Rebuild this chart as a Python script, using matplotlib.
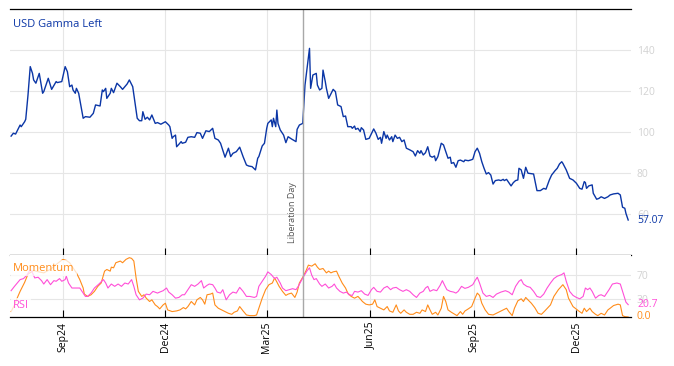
import matplotlib.dates as mdates
import matplotlib.pyplot as plt
import pandas as pd

plt.rcParams["font.family"] = ["Open Sans", "DejaVu Sans"]

# ---------------------------------------------------------------- data
gamma_dates = [
    "2024-07-17", "2024-07-19", "2024-07-21", "2024-07-25", "2024-07-26", "2024-07-29", "2024-07-30",
    "2024-08-01", "2024-08-03", "2024-08-05", "2024-08-06", "2024-08-08", "2024-08-11", "2024-08-14",
    "2024-08-15", "2024-08-19", "2024-08-22", "2024-08-26", "2024-08-27", "2024-08-31",
    "2024-09-03", "2024-09-05", "2024-09-07", "2024-09-09", "2024-09-10", "2024-09-12", "2024-09-13",
    "2024-09-15", "2024-09-19", "2024-09-21", "2024-09-25", "2024-09-28", "2024-09-30",
    "2024-10-04", "2024-10-06", "2024-10-07", "2024-10-09", "2024-10-10", "2024-10-13", "2024-10-14",
    "2024-10-16", "2024-10-19", "2024-10-22", "2024-10-24", "2024-10-28", "2024-10-30",
    "2024-11-02", "2024-11-06", "2024-11-08", "2024-11-10", "2024-11-11", "2024-11-13", "2024-11-15",
    "2024-11-17", "2024-11-19", "2024-11-22", "2024-11-24", "2024-11-27",
    "2024-12-01", "2024-12-04", "2024-12-05", "2024-12-07", "2024-12-08", "2024-12-10", "2024-12-11",
    "2024-12-13", "2024-12-15", "2024-12-16", "2024-12-19", "2024-12-21", "2024-12-24", "2024-12-27",
    "2024-12-29",
    "2025-01-01", "2025-01-03", "2025-01-06", "2025-01-09", "2025-01-12", "2025-01-14", "2025-01-17",
    "2025-01-19", "2025-01-23", "2025-01-26", "2025-01-28", "2025-01-30",
    "2025-02-02", "2025-02-05", "2025-02-08", "2025-02-11", "2025-02-13", "2025-02-16", "2025-02-19",
    "2025-02-21", "2025-02-22", "2025-02-25", "2025-02-27",
    "2025-03-01", "2025-03-02", "2025-03-05", "2025-03-06", "2025-03-07", "2025-03-09", "2025-03-10",
    "2025-03-11", "2025-03-13", "2025-03-16", "2025-03-18", "2025-03-20", "2025-03-23", "2025-03-27",
    "2025-03-28", "2025-03-30",
    "2025-04-02", "2025-04-04", "2025-04-08", "2025-04-09", "2025-04-11", "2025-04-14", "2025-04-15",
    "2025-04-17", "2025-04-19", "2025-04-20", "2025-04-22", "2025-04-23", "2025-04-25", "2025-04-28",
    "2025-04-29",
    "2025-05-01", "2025-05-03", "2025-05-06", "2025-05-08", "2025-05-10", "2025-05-12", "2025-05-15",
    "2025-05-16", "2025-05-18", "2025-05-19", "2025-05-21", "2025-05-23", "2025-05-24", "2025-05-26",
    "2025-05-28", "2025-05-31",
    "2025-06-04", "2025-06-06", "2025-06-08", "2025-06-10", "2025-06-11", "2025-06-13", "2025-06-15",
    "2025-06-16", "2025-06-18", "2025-06-20", "2025-06-21", "2025-06-23", "2025-06-25", "2025-06-27",
    "2025-06-29",
    "2025-07-01", "2025-07-03", "2025-07-06", "2025-07-09", "2025-07-11", "2025-07-13", "2025-07-15",
    "2025-07-16", "2025-07-18", "2025-07-20", "2025-07-22", "2025-07-24", "2025-07-26", "2025-07-28",
    "2025-07-29", "2025-07-31",
    "2025-08-03", "2025-08-05", "2025-08-07", "2025-08-09", "2025-08-11", "2025-08-12", "2025-08-14",
    "2025-08-16", "2025-08-18", "2025-08-20", "2025-08-23", "2025-08-24", "2025-08-27", "2025-08-29",
    "2025-08-31",
    "2025-09-02", "2025-09-04", "2025-09-06", "2025-09-08", "2025-09-10", "2025-09-12", "2025-09-14",
    "2025-09-16", "2025-09-18", "2025-09-20", "2025-09-23", "2025-09-25", "2025-09-27", "2025-09-28",
    "2025-09-30",
    "2025-10-02", "2025-10-04", "2025-10-06", "2025-10-08", "2025-10-10", "2025-10-11", "2025-10-13",
    "2025-10-15", "2025-10-17", "2025-10-19", "2025-10-24", "2025-10-27", "2025-10-30",
    "2025-11-02", "2025-11-04", "2025-11-07", "2025-11-09", "2025-11-12", "2025-11-14", "2025-11-16",
    "2025-11-18", "2025-11-19", "2025-11-22", "2025-11-25", "2025-11-28",
    "2025-12-01", "2025-12-04", "2025-12-06", "2025-12-08", "2025-12-09", "2025-12-10", "2025-12-12",
    "2025-12-15", "2025-12-16", "2025-12-19", "2025-12-21", "2025-12-23", "2025-12-26", "2025-12-29",
    "2025-12-31",
    "2026-01-03", "2026-01-07", "2026-01-09", "2026-01-11", "2026-01-13", "2026-01-14", "2026-01-16",
]
gamma_values = [
    98.0, 99.4, 99.0, 103.4, 102.6, 105.0, 106.2,
    118.0, 131.9, 128.6, 125.4, 123.8, 128.6, 118.9, 119.7, 126.2, 120.8, 124.6, 124.1, 124.6,
    131.9, 129.4, 122.1, 122.9, 120.5, 118.9, 121.3, 118.9, 106.7, 107.5, 107.2, 109.1, 113.2,
    112.7, 120.5, 119.7, 121.3, 116.4, 118.9, 121.3, 119.2, 123.8, 122.1, 120.8, 123.4, 125.4,
    122.1, 106.7, 105.5, 105.5, 109.9, 106.2, 107.2, 105.9, 108.3, 104.2, 104.6, 103.8,
    105.0, 103.4, 102.6, 96.9, 97.7, 98.5, 92.8, 94.0, 95.3, 94.5, 95.0, 97.4, 97.7, 97.4, 99.7,
    99.4, 96.9, 100.6, 100.2, 101.8, 96.9, 96.1, 94.5, 87.7, 92.1, 88.0, 89.6,
    90.4, 92.6, 88.0, 83.9, 83.4, 83.1, 81.5, 87.2, 88.0, 93.2, 94.5,
    101.8, 104.2, 105.9, 102.6, 106.7, 102.6, 110.7, 104.2, 101.0, 98.5, 94.8, 97.7, 96.6, 95.3,
    101.3, 103.4,
    104.2, 122.9, 140.8, 121.3, 127.8, 128.6, 122.9, 120.5, 121.3, 130.2, 124.6, 121.3, 116.4,
    119.7, 120.8,
    119.7, 113.2, 112.4, 107.5, 107.8, 102.6, 102.6, 101.8, 102.9, 101.3, 101.8, 100.2, 102.1,
    101.0, 96.4, 96.9,
    101.5, 99.4, 96.4, 97.4, 94.5, 100.2, 96.9, 98.5, 96.1, 97.7, 95.3, 98.5, 96.9, 97.4, 95.3,
    96.1, 92.1, 91.3, 90.4, 88.3, 90.9, 89.6, 90.9, 88.8, 89.9, 92.8, 88.3, 87.7, 88.3, 86.0, 88.0,
    94.5, 93.7, 90.4, 87.2, 87.7, 84.7, 85.1, 82.8, 86.0, 86.3, 85.5, 86.3, 86.0, 86.3, 86.7,
    90.4, 92.1, 89.6, 85.5, 82.3, 79.5, 80.2, 79.0, 74.6, 76.3, 76.6, 76.3, 76.9, 76.3, 76.9,
    75.3, 73.7, 75.3, 76.3, 76.6, 82.3, 81.5, 77.4, 82.8, 79.9, 79.5, 71.4, 71.4,
    72.5, 72.1, 76.6, 79.0, 81.1, 82.3, 84.4, 85.5, 84.7, 81.5, 77.4, 76.6,
    75.0, 72.5, 72.1, 75.8, 75.3, 72.5, 73.7, 74.2, 70.1, 67.2, 67.6, 68.4, 67.6, 68.4, 69.3,
    69.8, 70.1, 69.3, 63.3, 62.8, 60.3, 57.07,
]

rsi_dates = [
    "2024-07-17", "2024-07-20", "2024-07-25", "2024-07-28", "2024-07-31",
    "2024-08-03", "2024-08-05", "2024-08-07", "2024-08-10", "2024-08-13", "2024-08-15", "2024-08-18",
    "2024-08-21", "2024-08-24", "2024-08-26", "2024-08-29", "2024-08-31",
    "2024-09-03", "2024-09-04", "2024-09-06", "2024-09-09", "2024-09-13", "2024-09-16", "2024-09-19",
    "2024-09-21", "2024-09-23", "2024-09-26", "2024-09-29",
    "2024-10-03", "2024-10-07", "2024-10-09", "2024-10-11", "2024-10-14", "2024-10-17", "2024-10-20",
    "2024-10-23", "2024-10-26", "2024-10-29",
    "2024-11-01", "2024-11-03", "2024-11-05", "2024-11-08", "2024-11-11", "2024-11-14", "2024-11-17",
    "2024-11-20", "2024-11-24", "2024-11-26", "2024-11-29",
    "2024-12-02", "2024-12-04", "2024-12-07", "2024-12-10", "2024-12-13", "2024-12-16", "2024-12-18",
    "2024-12-21", "2024-12-24", "2024-12-27", "2024-12-30",
    "2025-01-02", "2025-01-04", "2025-01-07", "2025-01-09", "2025-01-12", "2025-01-14", "2025-01-16",
    "2025-01-19", "2025-01-21", "2025-01-24", "2025-01-27", "2025-01-30",
    "2025-02-02", "2025-02-05", "2025-02-08", "2025-02-11", "2025-02-14", "2025-02-18", "2025-02-20",
    "2025-02-22", "2025-02-25", "2025-02-28",
    "2025-03-02", "2025-03-05", "2025-03-08", "2025-03-10", "2025-03-13", "2025-03-15", "2025-03-18",
    "2025-03-21", "2025-03-24", "2025-03-27", "2025-03-29",
    "2025-04-02", "2025-04-06", "2025-04-08", "2025-04-10", "2025-04-12", "2025-04-14", "2025-04-17",
    "2025-04-19", "2025-04-22", "2025-04-25", "2025-04-28", "2025-04-30",
    "2025-05-02", "2025-05-05", "2025-05-08", "2025-05-11", "2025-05-13", "2025-05-16", "2025-05-18",
    "2025-05-21", "2025-05-24", "2025-05-27", "2025-05-30",
    "2025-06-02", "2025-06-04", "2025-06-07", "2025-06-10", "2025-06-13", "2025-06-16", "2025-06-19",
    "2025-06-21", "2025-06-24", "2025-06-27", "2025-06-30",
    "2025-07-03", "2025-07-06", "2025-07-09", "2025-07-12", "2025-07-15", "2025-07-18", "2025-07-20",
    "2025-07-22", "2025-07-24", "2025-07-27", "2025-07-30",
    "2025-08-02", "2025-08-04", "2025-08-06", "2025-08-08", "2025-08-11", "2025-08-14", "2025-08-16",
    "2025-08-18", "2025-08-21", "2025-08-24", "2025-08-27", "2025-08-31",
    "2025-09-02", "2025-09-04", "2025-09-06", "2025-09-09", "2025-09-12", "2025-09-15", "2025-09-18",
    "2025-09-21", "2025-09-25", "2025-09-29",
    "2025-10-02", "2025-10-05", "2025-10-08", "2025-10-11", "2025-10-13", "2025-10-15", "2025-10-18",
    "2025-10-21", "2025-10-24", "2025-10-27", "2025-10-30",
    "2025-11-02", "2025-11-05", "2025-11-08", "2025-11-11", "2025-11-14", "2025-11-18", "2025-11-20",
    "2025-11-22", "2025-11-25", "2025-11-28",
    "2025-12-01", "2025-12-04", "2025-12-07", "2025-12-09", "2025-12-11", "2025-12-13", "2025-12-15",
    "2025-12-18", "2025-12-21", "2025-12-23", "2025-12-26", "2025-12-30",
    "2026-01-02", "2026-01-06", "2026-01-09", "2026-01-12", "2026-01-14", "2026-01-16",
]
rsi_values = [
    44.1, 51.4, 62.7, 64.4, 70.1,
    79.7, 74.0, 65.5, 66.7, 61.0, 55.3, 62.7, 54.2, 61.0, 59.9, 64.4, 59.9,
    62.7, 68.4, 57.0, 48.6, 48.6, 48.6, 40.1, 34.5, 34.5, 40.1, 48.6,
    55.3, 62.7, 57.0, 48.6, 55.3, 51.4, 55.3, 51.4, 57.0, 55.3,
    62.7, 51.4, 37.3, 28.8, 31.6, 38.4, 37.3, 43.0, 40.1, 41.8, 44.1,
    48.6, 41.8, 37.3, 31.6, 32.8, 37.3, 37.3, 45.8, 54.2, 51.4, 55.3,
    61.0, 48.6, 53.1, 55.3, 54.2, 48.6, 41.8, 40.1, 45.8, 28.8, 37.3, 41.8,
    40.1, 49.7, 43.0, 34.5, 34.5, 32.8, 34.5, 51.4, 59.9, 68.4,
    75.7, 71.2, 64.4, 66.7, 57.0, 48.6, 44.1, 45.8, 47.5, 45.8, 51.4,
    65.5, 78.0, 82.5, 70.1, 62.7, 64.4, 55.3, 51.4, 55.3, 48.6, 51.4, 55.3,
    48.6, 43.0, 40.1, 41.8, 37.3, 36.2, 43.0, 41.8, 44.1, 38.4, 36.2,
    45.8, 49.7, 43.0, 41.8, 48.6, 51.4, 45.8, 48.6, 49.7, 45.8, 43.0,
    45.8, 43.0, 37.3, 32.8, 40.1, 43.0, 48.6, 51.4, 43.0, 45.8, 44.1,
    53.1, 61.0, 53.1, 45.8, 43.0, 41.8, 40.1, 43.0, 51.4, 48.0, 49.7, 54.2,
    61.0, 66.7, 57.0, 40.1, 34.5, 36.2, 32.8, 38.4, 41.8, 44.1,
    41.8, 37.3, 51.4, 59.9, 62.7, 55.3, 51.4, 49.7, 43.0, 34.5, 32.8,
    38.4, 48.6, 57.0, 64.4, 68.4, 71.2, 74.0, 59.9, 43.0, 36.2,
    32.8, 30.5, 34.5, 48.6, 45.8, 48.6, 43.0, 31.6, 36.2, 37.3, 34.5, 45.8,
    55.3, 57.0, 55.3, 37.3, 24.9, 20.7,
]

momentum_dates = [
    "2024-07-17", "2024-07-20", "2024-07-22", "2024-07-25", "2024-07-29",
    "2024-08-01", "2024-08-06", "2024-08-10", "2024-08-15", "2024-08-21", "2024-08-26", "2024-08-30",
    "2024-09-01", "2024-09-04", "2024-09-07", "2024-09-10", "2024-09-13", "2024-09-16", "2024-09-19",
    "2024-09-20", "2024-09-23", "2024-09-26", "2024-09-29",
    "2024-10-02", "2024-10-05", "2024-10-08", "2024-10-10", "2024-10-13", "2024-10-14", "2024-10-16",
    "2024-10-18", "2024-10-22", "2024-10-24", "2024-10-27", "2024-10-30",
    "2024-11-01", "2024-11-03", "2024-11-05", "2024-11-07", "2024-11-10", "2024-11-12", "2024-11-14",
    "2024-11-17", "2024-11-19", "2024-11-22", "2024-11-24", "2024-11-26", "2024-11-29",
    "2024-12-01", "2024-12-03", "2024-12-07", "2024-12-11", "2024-12-14", "2024-12-17", "2024-12-19",
    "2024-12-21", "2024-12-24", "2024-12-27", "2024-12-29",
    "2025-01-01", "2025-01-03", "2025-01-05", "2025-01-07", "2025-01-10", "2025-01-12", "2025-01-14",
    "2025-01-17", "2025-01-20", "2025-01-23", "2025-01-26", "2025-01-29", "2025-01-31",
    "2025-02-03", "2025-02-05", "2025-02-08", "2025-02-11", "2025-02-14", "2025-02-18", "2025-02-20",
    "2025-02-22", "2025-02-25", "2025-02-28",
    "2025-03-03", "2025-03-06", "2025-03-08", "2025-03-10", "2025-03-12", "2025-03-15", "2025-03-18",
    "2025-03-20", "2025-03-23", "2025-03-26", "2025-03-28", "2025-03-30",
    "2025-04-02", "2025-04-05", "2025-04-07", "2025-04-10", "2025-04-13", "2025-04-15", "2025-04-17",
    "2025-04-20", "2025-04-23", "2025-04-25", "2025-04-27", "2025-04-29",
    "2025-05-02", "2025-05-04", "2025-05-07", "2025-05-10", "2025-05-12", "2025-05-15", "2025-05-18",
    "2025-05-21", "2025-05-23", "2025-05-25", "2025-05-28", "2025-05-31",
    "2025-06-03", "2025-06-05", "2025-06-07", "2025-06-10", "2025-06-13", "2025-06-16", "2025-06-18",
    "2025-06-21", "2025-06-24", "2025-06-26", "2025-06-28",
    "2025-07-01", "2025-07-03", "2025-07-06", "2025-07-09", "2025-07-12", "2025-07-15", "2025-07-17",
    "2025-07-20", "2025-07-22", "2025-07-24", "2025-07-26", "2025-07-29", "2025-07-31",
    "2025-08-03", "2025-08-05", "2025-08-07", "2025-08-09", "2025-08-12", "2025-08-15", "2025-08-17",
    "2025-08-20", "2025-08-22", "2025-08-24", "2025-08-27", "2025-08-30",
    "2025-09-02", "2025-09-04", "2025-09-06", "2025-09-08", "2025-09-11", "2025-09-14", "2025-09-18",
    "2025-09-21", "2025-09-24", "2025-09-27", "2025-09-30",
    "2025-10-02", "2025-10-05", "2025-10-07", "2025-10-10", "2025-10-13", "2025-10-15", "2025-10-17",
    "2025-10-19", "2025-10-22", "2025-10-25", "2025-10-28", "2025-10-31",
    "2025-11-03", "2025-11-08", "2025-11-11", "2025-11-15", "2025-11-19", "2025-11-22", "2025-11-24",
    "2025-11-28",
    "2025-12-03", "2025-12-06", "2025-12-08", "2025-12-10", "2025-12-13", "2025-12-15", "2025-12-18",
    "2025-12-20", "2025-12-23", "2025-12-26", "2025-12-29", "2025-12-31",
    "2026-01-03", "2026-01-07", "2026-01-09", "2026-01-11", "2026-01-13", "2026-01-16",
]
momentum_values = [
    9.0, 20.0, 30.0, 43.0, 58.0,
    72.0, 78.0, 76.0, 74.0, 80.0, 88.0, 94.0,
    96.6, 95.0, 91.0, 82.5, 74.0, 62.7, 48.6, 38.4, 34.5, 37.3, 43.0,
    51.4, 57.0, 76.9, 79.7, 76.9, 83.6, 82.5, 91.0, 93.8, 91.0, 96.6, 99.5,
    98.3, 93.8, 65.5, 43.0, 34.5, 37.3, 31.6, 26.0, 28.8, 20.3, 17.5, 13.6, 20.3,
    23.1, 11.9, 9.1, 10.2, 11.9, 15.8, 13.6, 17.5, 26.0, 20.3, 28.8,
    32.8, 28.8, 21.5, 37.3, 38.4, 40.1, 20.3, 14.7, 11.9, 9.1, 6.2, 4.5, 7.9,
    10.2, 17.5, 10.2, 3.4, 2.3, 2.3, 3.4, 14.7, 31.6, 45.8,
    54.2, 57.0, 65.5, 58.8, 51.4, 43.0, 36.2, 38.4, 40.1, 32.8, 41.8, 57.0,
    66.7, 78.0, 87.0, 85.3, 89.3, 83.6, 79.7, 81.4, 74.0, 76.9, 74.0, 75.7,
    76.9, 68.4, 57.0, 48.6, 40.1, 34.5, 31.6, 34.5, 30.5, 26.0, 21.5, 20.3,
    21.5, 28.8, 17.5, 14.7, 11.9, 17.5, 10.2, 7.9, 20.3, 10.2, 6.2,
    11.9, 7.9, 4.5, 4.5, 7.9, 6.2, 11.9, 9.1, 20.3, 11.9, 4.5, 7.9, 3.4,
    14.7, 34.5, 26.0, 11.9, 7.9, 4.5, 2.3, 9.1, 4.5, 10.0, 13.6, 17.5,
    31.6, 40.1, 36.2, 23.1, 11.9, 4.5, 3.4, 6.2, 9.1, 11.9, 14.7,
    9.1, 2.3, 14.7, 27.1, 30.5, 26.0, 32.8, 28.8, 23.1, 15.8, 6.2, 4.5,
    10.2, 20.3, 34.5, 45.8, 54.2, 45.8, 31.6, 17.5,
    10.2, 6.2, 14.7, 9.1, 14.7, 9.1, 4.5, 2.3, 6.2, 3.4, 11.9, 14.7,
    19.2, 21.5, 20.3, 2.3, 0.6, 0.0,
]

gamma_ticks = [60, 80, 100, 120, 140]
osc_ticks = [30, 70]
event_date = "2025-04-02"
event_label = "Liberation Day"

# ---------------------------------------------------------------- style
BLUE = "#0b36a6"
ORANGE = "#ff8c1a"
PINK = "#ff4fd8"
GRID = "#e6e6e6"
TICK_GREY = "#d2d2d2"
FS = 7.5

fig = plt.figure(figsize=(6.74, 3.66), dpi=100)
ax = fig.add_axes([0.0148, 0.3033, 0.9214, 0.6721])
ax2 = fig.add_axes([0.0148, 0.1339, 0.9214, 0.1694], sharex=ax)

ax.plot(pd.to_datetime(gamma_dates), gamma_values, color=BLUE, lw=1.0)
ax2.plot(pd.to_datetime(momentum_dates), momentum_values, color=ORANGE, lw=0.8)
ax2.plot(pd.to_datetime(rsi_dates), rsi_values, color=PINK, lw=0.8)

ax.set_ylim(40, 160)
ax.set_yticks(gamma_ticks)
ax2.set_ylim(0, 104)
ax2.set_yticks(osc_ticks)
ax.set_xlim(pd.Timestamp("2024-07-16"), pd.Timestamp("2026-01-18 12:00"))

for a in (ax, ax2):
    a.grid(True, color=GRID, lw=0.8)
    a.set_axisbelow(True)
    a.spines["left"].set_visible(False)
    a.spines["right"].set_visible(False)
    a.spines["top"].set_linewidth(0.9)
    a.spines["bottom"].set_linewidth(0.9)
    a.yaxis.tick_right()
    a.tick_params(axis="y", length=0, labelsize=FS, labelcolor=TICK_GREY, pad=4.3)
    a.tick_params(axis="x", direction="in", length=5, width=0.8)
    a.axvline(pd.Timestamp(event_date), color="#a8a8a8", lw=1.0)
ax2.spines["top"].set_visible(False)

ax2.xaxis.set_major_locator(mdates.MonthLocator(bymonth=[3, 6, 9, 12]))
ax2.xaxis.set_major_formatter(mdates.DateFormatter("%b%y"))
ax.tick_params(axis="x", labelbottom=False)
ax2.tick_params(axis="x", labelsize=FS, labelrotation=90, pad=3.5)

# event label
ax.annotate(event_label, xy=(pd.Timestamp(event_date), 46), xytext=(-4.5, 0),
            textcoords="offset points", rotation=90, ha="right", va="bottom",
            fontsize=6.5, color="#555555")

# series labels
ax.text(0.005, 0.935, "USD Gamma Left", transform=ax.transAxes, color=BLUE,
        fontsize=8, va="center")
box = dict(facecolor="white", alpha=0.75, edgecolor="none", pad=1.5)
ax2.text(0.005, 0.79, "Momentum", transform=ax2.transAxes, color=ORANGE,
         fontsize=8, va="center", bbox=box)
ax2.text(0.005, 0.18, "RSI", transform=ax2.transAxes, color=PINK,
         fontsize=8, va="center", bbox=box)

# last values
ax.annotate(f"{gamma_values[-1]:.2f}", xy=(1, gamma_values[-1]),
            xycoords=("axes fraction", "data"), xytext=(4.3, 0),
            textcoords="offset points", va="center", color=BLUE, fontsize=FS)
ax2.annotate(f"{rsi_values[-1]:.1f}", xy=(1, rsi_values[-1]),
             xycoords=("axes fraction", "data"), xytext=(4.3, 0),
             textcoords="offset points", va="center", color=PINK, fontsize=FS)
ax2.annotate(f"{momentum_values[-1]:.1f}", xy=(1, momentum_values[-1]),
             xycoords=("axes fraction", "data"), xytext=(4.3, 0),
             textcoords="offset points", va="center", color=ORANGE, fontsize=FS)

fig.savefig("out.png", dpi=100)
